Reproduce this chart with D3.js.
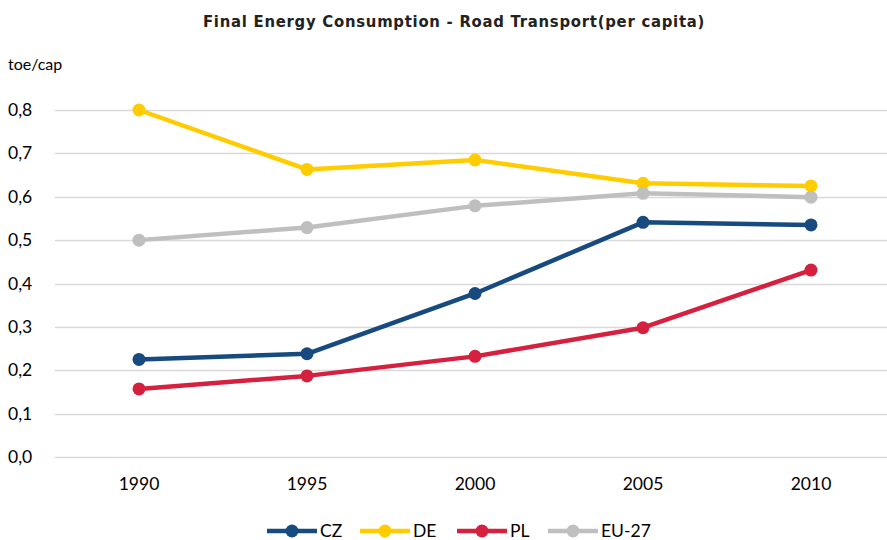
<!DOCTYPE html>
<html>
<head>
<meta charset="utf-8">
<script src="https://cdn.jsdelivr.net/npm/d3@7"></script>
<style>
  body { margin: 0; background: #fff; }
  svg { display: block; }
</style>
</head>
<body>
<div id="chart"></div>
<script>
// data
const years = ["1990", "1995", "2000", "2005", "2010"];
const seriesNames = ["CZ", "DE", "PL", "EU-27"];
const czValues = [0.225, 0.238, 0.377, 0.541, 0.535];
const deValues = [0.800, 0.663, 0.685, 0.631, 0.625];
const plValues = [0.157, 0.187, 0.232, 0.298, 0.431];
const euValues = [0.500, 0.529, 0.579, 0.608, 0.599];
const yTicks = [0, 0.1, 0.2, 0.3, 0.4, 0.5, 0.6, 0.7, 0.8];

const colors = ["#174A7E", "#FFCC00", "#D5213F", "#BFBFBF"];
const series = [czValues, deValues, plValues, euValues].map((values, i) => ({
    name: seriesNames[i],
    color: colors[i],
    values: values
}));

const width = 887;
const height = 540;
const margin = { top: 110, right: -8, bottom: 83, left: 55 };

const svg = d3.select("#chart")
    .append("svg")
    .attr("width", width)
    .attr("height", height);

const xScale = d3.scaleBand()
    .domain(years)
    .range([margin.left, width - margin.right]);

const yScale = d3.scaleLinear()
    .domain([0, 0.8])
    .range([height - margin.bottom, margin.top]);

const fontFamily = "Lato, 'Open Sans', sans-serif";

// gridlines
svg.append("g")
    .selectAll("line")
    .data(yTicks)
    .enter()
    .append("line")
    .attr("x1", margin.left)
    .attr("x2", width)
    .attr("y1", d => Math.round(yScale(d)) + 0.5)
    .attr("y2", d => Math.round(yScale(d)) + 0.5)
    .attr("stroke", "#D9D9D9")
    .attr("stroke-width", 1.5);

// y axis labels
const yAxis = svg.append("g")
    .attr("transform", `translate(8,0)`)
    .call(d3.axisLeft(yScale).tickValues(yTicks).tickSize(0).tickPadding(0)
        .tickFormat(d => d3.format(".1f")(d).replace(".", ",")));
yAxis.select(".domain").remove();
yAxis.selectAll("text")
    .attr("text-anchor", "start")
    .attr("font-family", fontFamily)
    .attr("font-size", 17.5)
    .attr("fill", "#000");

// x axis labels
const xAxis = svg.append("g")
    .attr("transform", `translate(0,${height - margin.bottom})`)
    .call(d3.axisBottom(xScale).tickSize(0).tickPadding(21));
xAxis.select(".domain").remove();
xAxis.selectAll("text")
    .attr("font-family", fontFamily)
    .attr("font-size", 17.5)
    .attr("fill", "#000");

// unit label
svg.append("text")
    .attr("x", 8)
    .attr("y", 70)
    .attr("font-family", fontFamily)
    .attr("font-size", 16)
    .attr("fill", "#000")
    .text("toe/cap");

// title
svg.append("text")
    .attr("x", 454)
    .attr("y", 27)
    .attr("text-anchor", "middle")
    .attr("font-family", "'DejaVu Sans Condensed', 'DejaVu Sans', sans-serif")
    .attr("font-stretch", "condensed")
    .attr("font-weight", "bold")
    .attr("font-size", 16.5)
    .attr("letter-spacing", 0.75)
    .attr("fill", "#222")
    .text("Final Energy Consumption - Road Transport(per capita)");

const xPos = (d, i) => xScale(years[i]) + xScale.bandwidth() / 2;

const line = d3.line()
    .x(xPos)
    .y(d => yScale(d));

const groups = svg.append("g")
    .selectAll("g")
    .data(series)
    .enter()
    .append("g");

groups.append("path")
    .attr("d", d => line(d.values))
    .attr("fill", "none")
    .attr("stroke", d => d.color)
    .attr("stroke-width", 4.5)
    .attr("stroke-linejoin", "round");

groups.selectAll("circle")
    .data(d => d.values.map(v => ({ v: v, color: d.color })))
    .enter()
    .append("circle")
    .attr("cx", (d, i) => xPos(d, i))
    .attr("cy", d => yScale(d.v))
    .attr("r", 6.5)
    .attr("fill", d => d.color);

// legend
const legendX = [267, 360, 457, 548];
const legendY = 531;
const legend = svg.append("g")
    .selectAll("g")
    .data(series)
    .enter()
    .append("g")
    .attr("transform", (d, i) => `translate(${legendX[i]},${legendY})`);

legend.append("line")
    .attr("x1", 0)
    .attr("x2", 50)
    .attr("stroke", d => d.color)
    .attr("stroke-width", 4.5);

legend.append("circle")
    .attr("cx", 25)
    .attr("r", 6.5)
    .attr("fill", d => d.color);

legend.append("text")
    .attr("x", 53)
    .attr("y", 6)
    .attr("font-family", fontFamily)
    .attr("font-size", 17.5)
    .attr("fill", "#000")
    .text(d => d.name);
</script>
</body>
</html>
